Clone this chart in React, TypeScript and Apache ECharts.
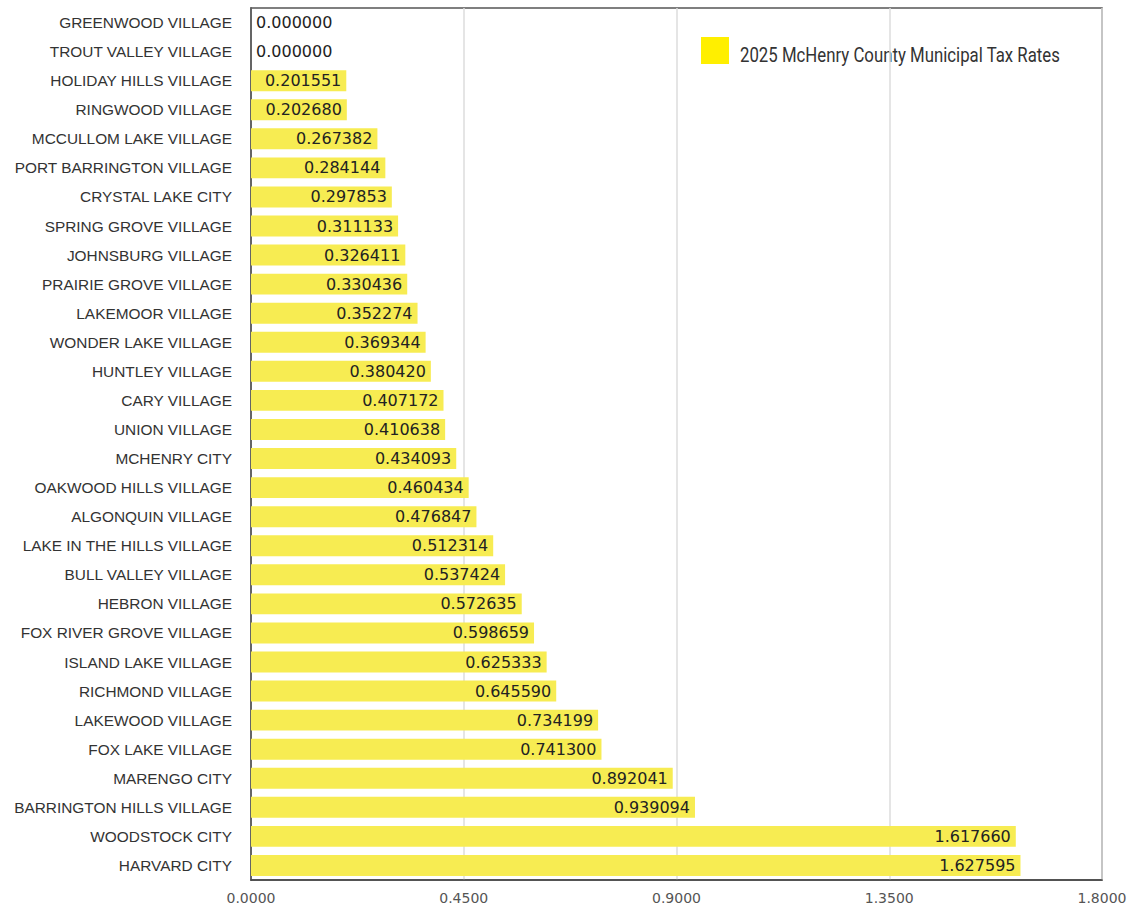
import React, { useEffect, useRef } from "react";
import * as echarts from "echarts";

const categories = [
  "GREENWOOD VILLAGE",
  "TROUT VALLEY VILLAGE",
  "HOLIDAY HILLS VILLAGE",
  "RINGWOOD VILLAGE",
  "MCCULLOM LAKE VILLAGE",
  "PORT BARRINGTON VILLAGE",
  "CRYSTAL LAKE CITY",
  "SPRING GROVE VILLAGE",
  "JOHNSBURG VILLAGE",
  "PRAIRIE GROVE VILLAGE",
  "LAKEMOOR VILLAGE",
  "WONDER LAKE VILLAGE",
  "HUNTLEY VILLAGE",
  "CARY VILLAGE",
  "UNION VILLAGE",
  "MCHENRY CITY",
  "OAKWOOD HILLS VILLAGE",
  "ALGONQUIN VILLAGE",
  "LAKE IN THE HILLS VILLAGE",
  "BULL VALLEY VILLAGE",
  "HEBRON VILLAGE",
  "FOX RIVER GROVE VILLAGE",
  "ISLAND LAKE VILLAGE",
  "RICHMOND VILLAGE",
  "LAKEWOOD VILLAGE",
  "FOX LAKE VILLAGE",
  "MARENGO CITY",
  "BARRINGTON HILLS VILLAGE",
  "WOODSTOCK CITY",
  "HARVARD CITY",
];

const taxRates = [
  0.0, 0.0, 0.201551, 0.20268, 0.267382, 0.284144, 0.297853, 0.311133,
  0.326411, 0.330436, 0.352274, 0.369344, 0.38042, 0.407172, 0.410638,
  0.434093, 0.460434, 0.476847, 0.512314, 0.537424, 0.572635, 0.598659,
  0.625333, 0.64559, 0.734199, 0.7413, 0.892041, 0.939094, 1.61766, 1.627595,
];

const seriesName = "2025 McHenry County Municipal Tax Rates";
const xMin = 0;
const xMax = 1.8;
const xInterval = 0.45;

export default function App() {
  const ref = useRef<HTMLDivElement>(null);

  useEffect(() => {
    if (!ref.current) return;
    const chart = echarts.init(ref.current, null, { renderer: "svg" });
    chart.setOption({
      animation: false,
      backgroundColor: "#ffffff",
      grid: {
        left: 251,
        right: 35,
        top: 8,
        bottom: 27,
        show: true,
        borderColor: "#555",
        borderWidth: 1.5,
        backgroundColor: "transparent",
      },
      graphic: [
        {
          type: "group",
          children: [
            {
              type: "rect",
              shape: { x: 701, y: 37, width: 28, height: 27 },
              style: { fill: "#ffef00" },
            },
            {
              type: "text",
              x: 740,
              y: 56,
              scaleX: 0.84,
              style: {
                x: 0,
                y: 0,
                text: seriesName,
                fontFamily: "Roboto, sans-serif",
                fontSize: 20,
                fill: "#333",
                verticalAlign: "middle",
                align: "left",
              },
            },
          ],
        },
      ],
      xAxis: {
        type: "value",
        min: xMin,
        max: xMax,
        interval: xInterval,
        axisLine: { show: true, lineStyle: { color: "#444", width: 1.5 } },
        axisTick: { show: false },
        splitLine: { show: true, lineStyle: { color: "#dcdcdc", width: 1.5 } },
        axisLabel: {
          fontFamily: "'DejaVu Sans', sans-serif",
          fontSize: 14,
          color: "#555",
          margin: 11,
          formatter: (v: number) => v.toFixed(4),
        },
      },
      yAxis: {
        type: "category",
        data: categories,
        inverse: true,
        axisLine: { show: true, lineStyle: { color: "#444", width: 1.5 } },
        axisTick: { show: false },
        splitLine: { show: false },
        axisLabel: {
          fontFamily: "'Liberation Sans', Arial, sans-serif",
          fontSize: 15.4,
          color: "#333",
          margin: 19,
        },
      },
      series: [
        {
          name: seriesName,
          type: "bar",
          barCategoryGap: "28%",
          itemStyle: { color: "#f7ec52" },
          data: taxRates.map((v) =>
            v === 0
              ? { value: v, label: { position: "right", distance: 5 } }
              : { value: v }
          ),
          label: {
            show: true,
            position: "insideRight",
            distance: 5,
            fontFamily: "'DejaVu Sans', sans-serif",
            fontSize: 16,
            color: "#222",
            formatter: (p: any) => Number(p.value).toFixed(6),
          },
        },
      ],
    });
    return () => chart.dispose();
  }, []);

  return (
    <div
      ref={ref}
      style={{ position: "fixed", left: 0, top: 0, width: 1137, height: 907 }}
    />
  );
}
